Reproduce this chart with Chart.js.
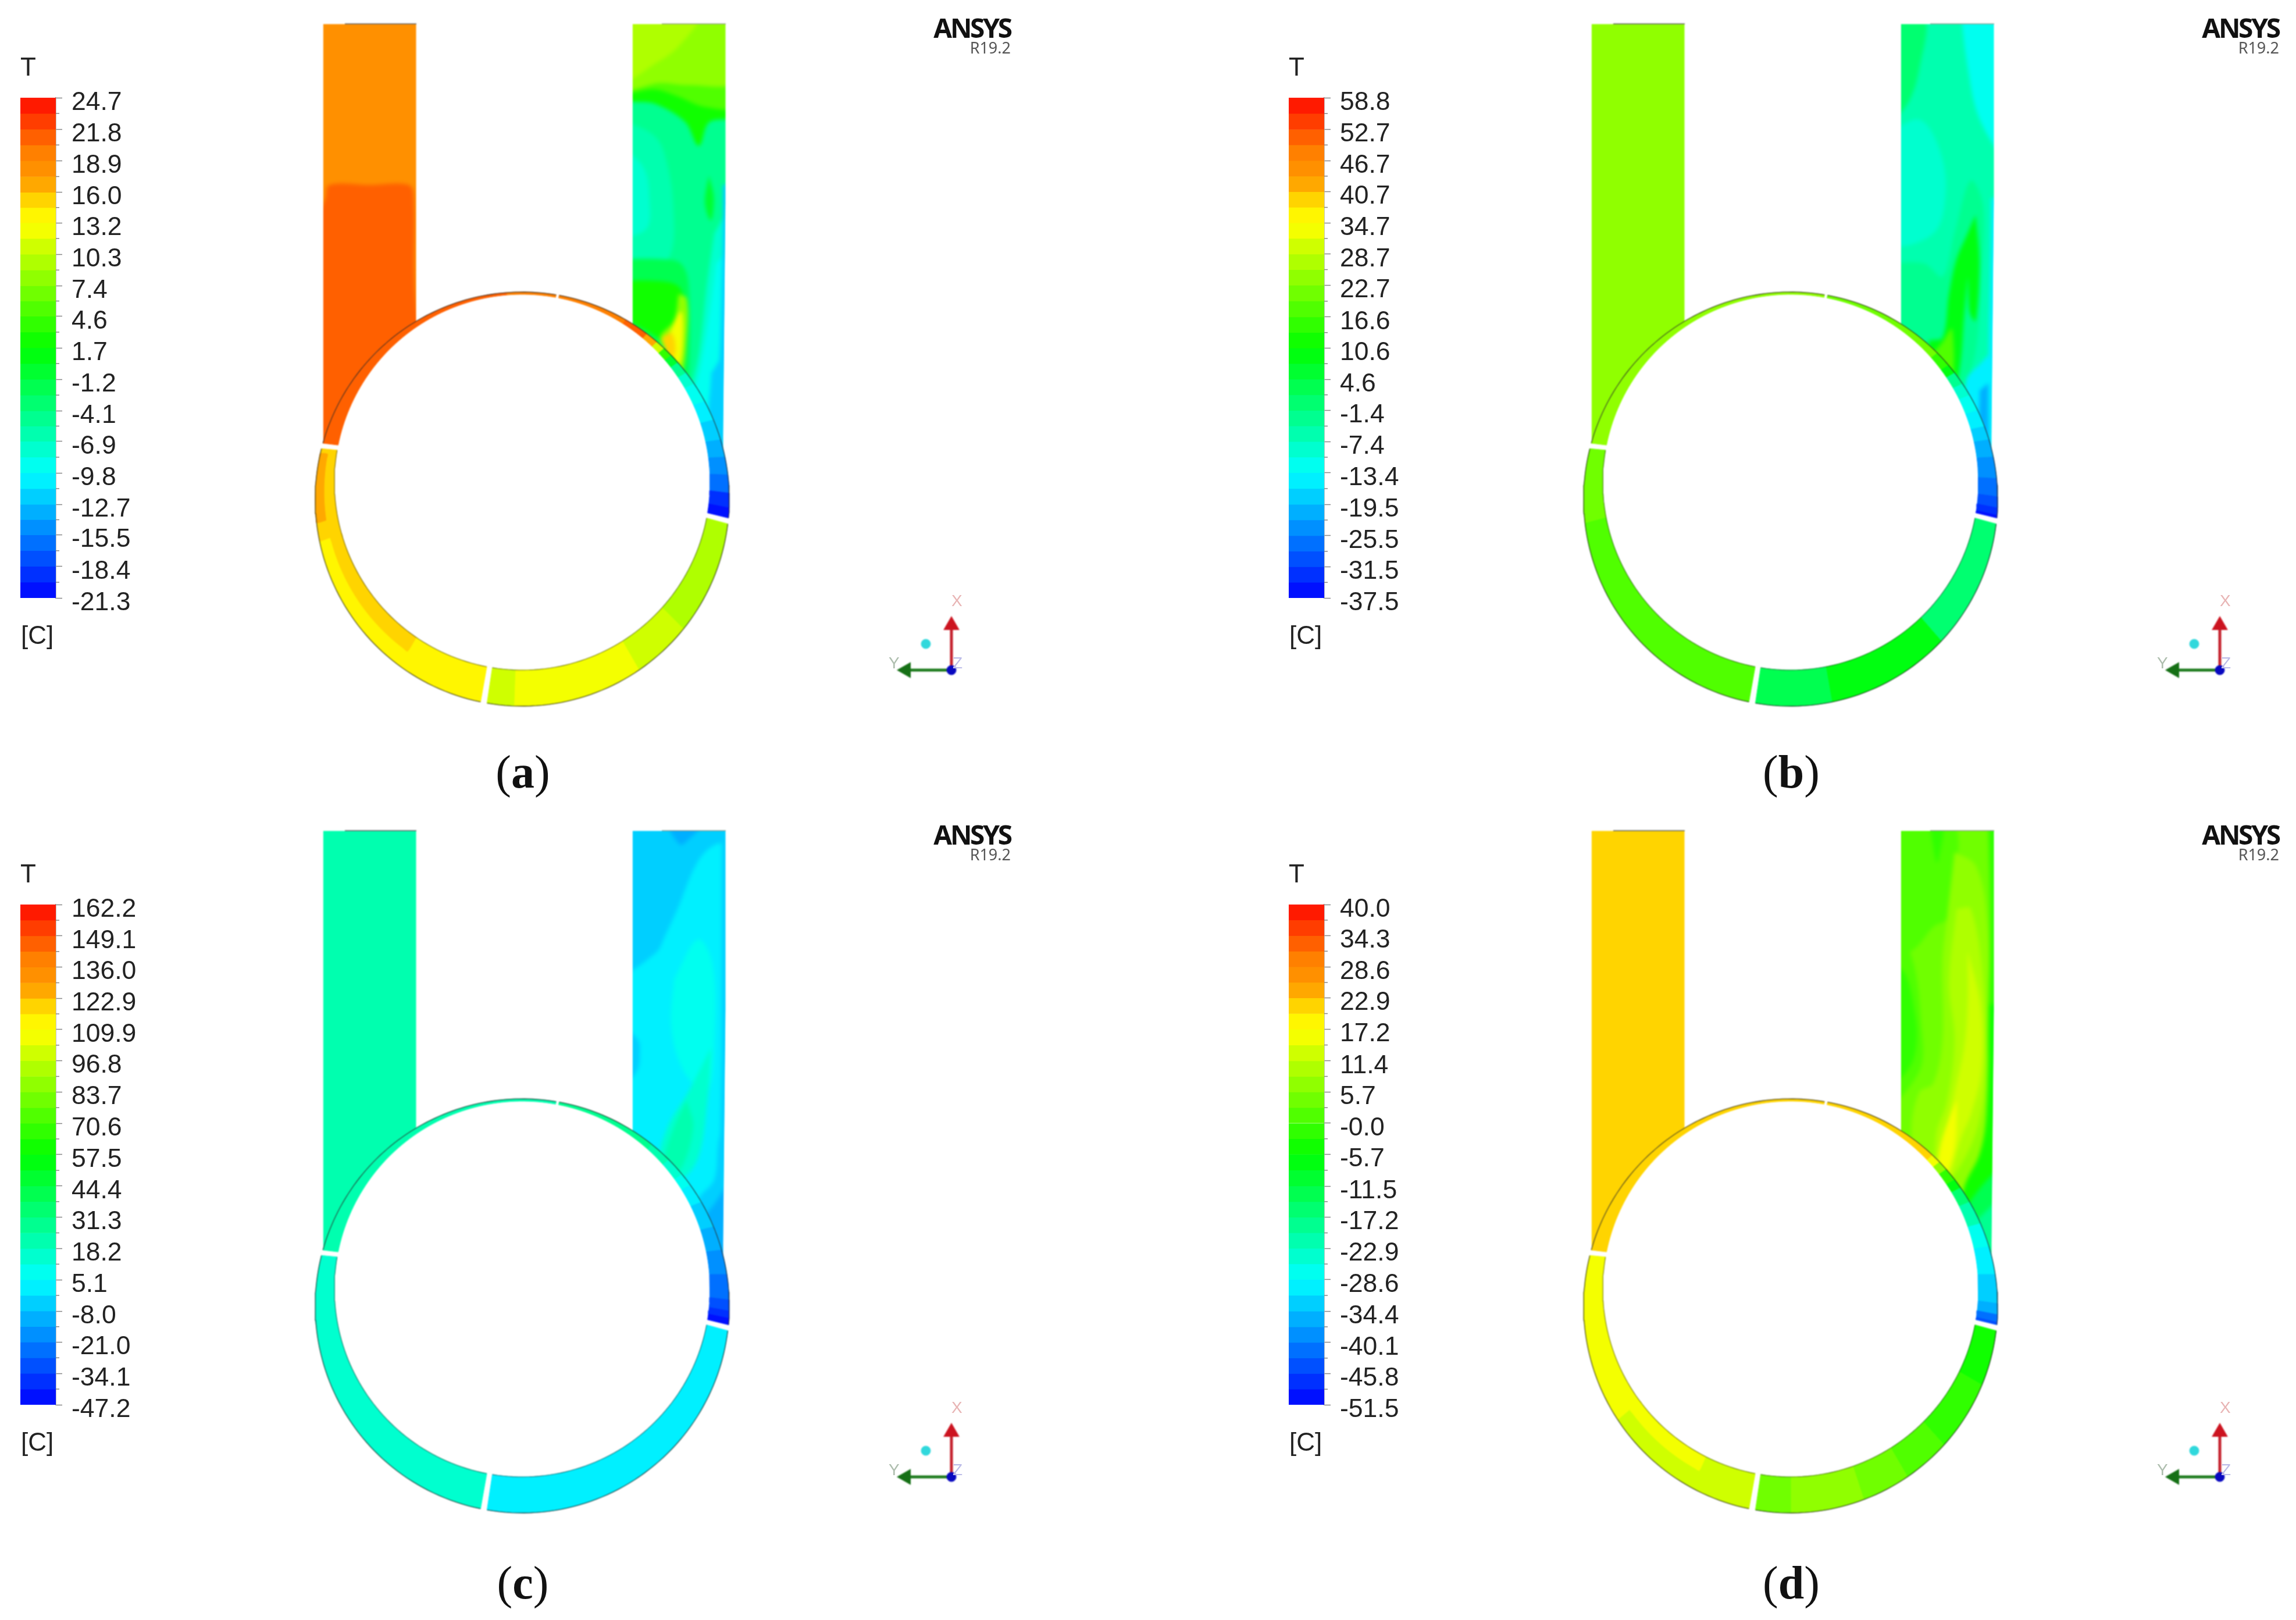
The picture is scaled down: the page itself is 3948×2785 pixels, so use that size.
<!DOCTYPE html>
<html>
<head>
<meta charset="utf-8">
<title>T contours</title>
<script src="https://cdn.jsdelivr.net/npm/chart.js@4"></script>
<style>
  html, body { margin: 0; background: #fff; }
  body { position: relative; width: 3948px; height: 2785px; overflow: hidden; font-family: "Liberation Sans", Arial, sans-serif; color: #222; }
  canvas { position: absolute; }
  .duct { filter: blur(3.5px); }
  .field { filter: blur(1.1px); }
  .bar { filter: blur(0.7px); }
  .txt { position: absolute; white-space: nowrap; line-height: 1; filter: blur(0.6px); }
</style>
</head>
<body>
<script>
// colour bands of the legend, top (hot) to bottom (cold)
const bandColors = [
  '#ff1a00', '#ff3d00', '#ff6000', '#ff8000', '#ff9000', '#ffa800', '#ffd400', '#fff600',
  '#f4ff00', '#cfff00', '#afff00', '#90ff00', '#70ff00', '#50ff00', '#30ff00', '#10ff00',
  '#00ff10', '#00ff30', '#00ff50', '#00ff70', '#00ff90', '#00ffaf', '#00ffcf', '#00fff0',
  '#00f0ff', '#00cfff', '#00afff', '#0090ff', '#0070ff', '#0050ff', '#0030ff', '#0010ff'
]

const captions = ['a', 'b', 'c', 'd']

const aTicks = ['24.7', '21.8', '18.9', '16.0', '13.2', '10.3', '7.4', '4.6', '1.7', '-1.2', '-4.1', '-6.9', '-9.8', '-12.7', '-15.5', '-18.4', '-21.3']
const bTicks = ['58.8', '52.7', '46.7', '40.7', '34.7', '28.7', '22.7', '16.6', '10.6', '4.6', '-1.4', '-7.4', '-13.4', '-19.5', '-25.5', '-31.5', '-37.5']
const cTicks = ['162.2', '149.1', '136.0', '122.9', '109.9', '96.8', '83.7', '70.6', '57.5', '44.4', '31.3', '18.2', '5.1', '-8.0', '-21.0', '-34.1', '-47.2']
const dTicks = ['40.0', '34.3', '28.6', '22.9', '17.2', '11.4', '5.7', '-0.0', '-5.7', '-11.5', '-17.2', '-22.9', '-28.6', '-34.4', '-40.1', '-45.8', '-51.5']

// duct contours: temperature, then outline as [% across duct, % down duct]
const aLeftBase = 18.2
const aLeftDuct = [
  [21.1, [[0, 105], [0, 48], [3, 40], [7, 37], [50, 37], [92, 37], [97, 40], [98, 60], [100, 105], [0, 105]]]
]
const aRightBase = -4.8
const aRightDuct = [
  [2.4, [[0, 0], [100, 0], [100, 20.7], [82, 22.5], [71, 27.9], [57, 22.5], [25, 18.3], [0, 16.5], [0, 0]]],
  [5.3, [[0, 0], [100, 0], [100, 18.5], [78, 19], [48, 16.5], [25, 15], [0, 15], [0, 0]]],
  [8.2, [[0, 0], [100, 0], [100, 13], [60, 14], [30, 13.5], [0, 14.5], [0, 0]]],
  [9.6, [[0, 0], [70, 0], [50, 5], [25, 9], [0, 13], [0, 0]]],
  [-6.2, [[0, 22], [25, 26], [38, 33], [44, 43], [42, 52], [25, 57], [0, 54], [0, 22]]],
  [-7.6, [[0, 28], [12, 33], [18, 40], [15, 47], [0, 48], [0, 28]]],
  [-0.4, [[82, 35], [87, 40], [84, 45], [78, 41], [82, 35]]],
  [-7.6, [[88, 48], [100, 40], [100, 105], [60, 105], [60, 88], [72, 75], [80, 60], [88, 48]]],
  [-9.1, [[90, 55], [100, 50], [100, 105], [66, 105], [64, 88], [74, 78], [84, 65], [90, 55]]],
  [-12, [[97, 37], [100, 37], [100, 105], [90, 105], [95, 70], [97, 50], [97, 37]]],
  [-12, [[85, 80], [100, 72], [100, 105], [80, 105], [85, 80]]],
  [-1.9, [[0, 54], [30, 54], [52, 55], [60, 60], [60, 80], [53, 85], [0, 72], [0, 54]]],
  [2.4, [[0, 59], [25, 59], [48, 60], [55, 63], [56, 69], [50, 76], [28, 72], [0, 66], [0, 59]]],
  [8.2, [[50, 62], [58, 63], [58, 72], [52, 80], [40, 76], [30, 72], [45, 68], [50, 62]]],
  [12.5, [[40, 71], [52, 66], [54, 72], [50, 78], [42, 75], [40, 71]]],
  [15.3, [[32, 72], [42, 71], [46, 75], [40, 77], [32, 72]]]
]

const bLeftBase = 24.2
const bLeftDuct = []
const bRightBase = -5.9
const bRightDuct = [
  [0.1, [[0, 0], [25, 0], [20, 10], [8, 18], [0, 22], [0, 0]]],
  [-11.9, [[65, 0], [100, 0], [100, 30], [85, 22], [72, 10], [65, 0]]],
  [-8.9, [[0, 25], [20, 22], [40, 28], [48, 38], [35, 48], [0, 50], [0, 25]]],
  [-2.9, [[0, 55], [25, 55], [45, 58], [58, 48], [75, 36], [88, 42], [85, 60], [80, 75], [65, 85], [52, 90], [0, 85], [0, 55]]],
  [9.2, [[80, 44], [84, 55], [80, 68], [74, 66], [72, 58], [68, 66], [62, 80], [52, 85], [42, 80], [30, 73], [45, 72], [52, 62], [60, 54], [72, 48], [80, 44]]],
  [18.2, [[25, 78], [45, 73], [55, 70], [52, 85], [30, 85], [25, 78]]],
  [-14.9, [[100, 72], [100, 105], [72, 105], [70, 82], [85, 78], [100, 72]]],
  [-20.9, [[85, 84], [100, 80], [100, 105], [85, 105], [85, 84]]],
  [-14.9, [[97, 40], [100, 40], [100, 105], [96, 105], [97, 40]]]
]

const cLeftBase = 21.5
const cLeftDuct = []
const cRightBase = 1.9
const cRightDuct = [
  [-4.7, [[0, 0], [100, 0], [100, 3], [90, 3], [70, 7], [48, 18], [35, 24], [25, 28], [0, 32], [0, 0]]],
  [-11.2, [[35, 0], [75, 0], [55, 3], [50, 3], [35, 0]]],
  [-4.7, [[96, 0], [100, 0], [100, 105], [95, 105], [96, 50], [96, 0]]],
  [-4.7, [[0, 44], [6, 48], [8, 50], [5, 55], [0, 58], [0, 44]]],
  [8.4, [[45, 34], [70, 25], [85, 30], [88, 45], [80, 60], [55, 55], [42, 45], [45, 34]]],
  [15, [[84, 50], [80, 62], [70, 75], [50, 80], [30, 76], [38, 68], [60, 60], [84, 50]]],
  [21.5, [[58, 62], [65, 68], [50, 78], [35, 76], [45, 68], [58, 62]]],
  [-4.7, [[100, 62], [100, 105], [60, 105], [70, 85], [88, 80], [94, 70], [100, 62]]],
  [-11.2, [[100, 78], [100, 105], [68, 105], [75, 90], [90, 85], [100, 78]]]
]

const dLeftBase = 21.4
const dLeftDuct = []
const dRightBase = 4.3
const dRightDuct = [
  [1.4, [[0, 0], [55, 0], [58, 12], [50, 20], [35, 22], [15, 27], [0, 30], [0, 0]]],
  [-1.5, [[31, 0], [45, 0], [40, 7], [38, 7], [31, 0]]],
  [1.4, [[0, 25], [10, 28], [22, 45], [20, 55], [0, 62], [0, 25]]],
  [-1.5, [[0, 30], [5, 33], [15, 42], [17, 48], [10, 54], [0, 58], [0, 30]]],
  [7.1, [[58, 5], [80, 8], [92, 20], [96, 45], [95, 60], [88, 73], [70, 82], [50, 85], [25, 80], [12, 70], [20, 60], [35, 58], [45, 48], [45, 30], [50, 20], [58, 5]]],
  [10, [[60, 18], [75, 18], [88, 35], [90, 55], [82, 68], [60, 78], [40, 82], [38, 70], [50, 62], [58, 48], [52, 35], [60, 18]]],
  [12.8, [[72, 28], [85, 40], [86, 55], [75, 65], [65, 70], [50, 80], [45, 75], [58, 60], [68, 50], [72, 40], [72, 28]]],
  [15.7, [[60, 62], [58, 72], [50, 78], [40, 80], [42, 73], [52, 66], [60, 62]]],
  [-1.5, [[94, 0], [100, 0], [100, 60], [96, 60], [96, 20], [94, 0]]],
  [-4.3, [[95, 40], [100, 40], [100, 85], [60, 95], [68, 82], [85, 74], [92, 65], [95, 40]]],
  [-12.9, [[100, 76], [100, 105], [55, 105], [68, 88], [85, 82], [100, 76]]],
  [-18.7, [[100, 83], [100, 105], [65, 105], [70, 92], [88, 88], [100, 83]]]
]

// ring: where each stretch starts (degrees around the ring) and its temperature
const ringSlits = [78.4, -14.5, -99.3, -186.2, -281.6]

const aRing = [
  [[78.4, 19.7], [55, 21.1], [47, 16.8], [43, 11], [40, 3.9], [37, -0.4], [34, -4.8], [30, -7.6], [26, -9.1], [20, -10.5], [14, -12], [8, -13.4], [3, -14.9], [-2, -16.3], [-7, -19.2], [-11, -20.6]],
  [[-14.5, 9.6], [-45, 11], [-60, 12.5], [-92, 11]],
  [[-99.3, 13.9], [-160, 15.3]],
  [[-186.2, 21.1], [-265, 19.7]]
]
const bRing = [
  [[78.4, 21.2], [38, 15.2], [33, 9.2], [30, -2.9], [26, -8.9], [22, -11.9], [17, -14.9], [12, -17.9], [8, -20.9], [3, -23.9], [-3, -26.9], [-8, -29.9], [-11, -32.9], [-13, -35.9]],
  [[-14.5, 0.1], [-49, 9.2], [-80, 3.1]],
  [[-99.3, 18.2], [-165, 21.2]],
  [[-186.2, 24.2]]
]
const cRing = [
  [[78.4, 28], [45, 21.5], [38, 15], [32, 8.4], [28, 1.9], [22, -4.7], [14, -11.2], [7, -17.8], [0, -24.3], [-7, -30.9], [-10, -37.4], [-12, -43.9]],
  [[-14.5, 1.9]],
  [[-99.3, 15]],
  [[-186.2, 21.5]]
]
const dRing = [
  [[78.4, 21.4], [40, 15.7], [37, 7.1], [34, -1.5], [30, -7.2], [27, -15.8], [22, -21.5], [15, -27.3], [8, -30.1], [0, -33], [-8, -35.9], [-11, -41.6], [-13, -44.5]],
  [[-14.5, -4.3], [-30, -1.5], [-48, 1.4], [-60, 4.3], [-72, 7.1], [-90, 4.3]],
  [[-99.3, 12.8], [-140, 15.7]],
  [[-186.2, 21.4]]
]

// extra ring patches: from deg, to deg, from/to fraction across the ring (inner to outer), temperature
const aPatches = [[-122, -160, 0, 0.5, 15.3], [-165, -184, 0.55, 1, 16.8]]
const bPatches = []
const cPatches = []
const dPatches = [[-115, -140, 0, 0.45, 15.7]]

const panels = [
  { ticks: aTicks, leftBase: aLeftBase, left: aLeftDuct, rightBase: aRightBase, right: aRightDuct, ring: aRing, patches: aPatches },
  { ticks: bTicks, leftBase: bLeftBase, left: bLeftDuct, rightBase: bRightBase, right: bRightDuct, ring: bRing, patches: bPatches },
  { ticks: cTicks, leftBase: cLeftBase, left: cLeftDuct, rightBase: cRightBase, right: cRightDuct, ring: cRing, patches: cPatches },
  { ticks: dTicks, leftBase: dLeftBase, left: dLeftDuct, rightBase: dRightBase, right: dRightDuct, ring: dRing, patches: dPatches }
]

const PANEL_W = 1974
const PANEL_H = 1387
// model units: 1 unit = 10 px, origin at the inner circle centre
const INNER = { cy: 0, r: 32.3 }
const OUTER = { cy: -2.9, r: 35.6 }
const RAY_Y = 2.5

function rayHit (deg, circle) {
  const a = deg * Math.PI / 180
  const dx = Math.cos(a)
  const dy = Math.sin(a)
  const fy = RAY_Y - circle.cy
  const b = dy * fy
  const t = -b + Math.sqrt(b * b - (fy * fy - circle.r * circle.r))
  return { x: t * dx, y: RAY_Y + t * dy }
}

function ringPoint (deg, f) {
  const p = rayHit(deg, INNER)
  const q = rayHit(deg, OUTER)
  return { x: p.x + (q.x - p.x) * f, y: p.y + (q.y - p.y) * f }
}

function arcPoints (from, to, f) {
  const n = Math.max(2, Math.ceil(Math.abs(to - from) / 1.5))
  const pts = []
  for (let i = 0; i <= n; i++) pts.push(ringPoint(from + (to - from) * i / n, f))
  return pts
}

function cell (from, to, f0, f1) {
  const pts = arcPoints(from, to, f0).concat(arcPoints(to, from, f1))
  pts.push(pts[0])
  return pts
}

function shape (points, color, tension) {
  return {
    data: points,
    showLine: true,
    fill: 'shape',
    backgroundColor: color,
    borderColor: color,
    borderWidth: 1,
    pointRadius: 0,
    tension: tension || 0
  }
}

function stroke (points, color, width) {
  return { data: points, showLine: true, fill: false, borderColor: color, borderWidth: width, pointRadius: 0, tension: 0 }
}

function rect (x0, x1, y0, y1) {
  return [{ x: x0, y: y0 }, { x: x1, y: y0 }, { x: x1, y: y1 }, { x: x0, y: y1 }, { x: x0, y: y0 }]
}

function colorScale (panel) {
  const vals = panel.ticks.map(Number)
  const hi = vals[0]
  const lo = vals[vals.length - 1]
  return t => bandColors[Math.min(31, Math.max(0, Math.floor((hi - t) / (hi - lo) * 32)))]
}

function ductDatasets (panel) {
  const colorOf = colorScale(panel)
  const paint = []
  const duct = (x0, base, contours) => {
    // walls and top run past the duct so the soft edge stays hidden under the masks
    const at = ([u, v]) => ({
      x: x0 + 0.161 * (u <= 0 ? -12 : u >= 100 ? 112 : u),
      y: 78.8 - 0.75 * (v <= 0 ? -2 : v)
    })
    paint.push(shape(rect(x0 - 3, x0 + 19, 80.5, -0.1), colorOf(base)))
    contours.forEach(([t, pts]) => paint.push(shape(pts.map(at), colorOf(t), 0.35)))
  }
  duct(-34.3, panel.leftBase, panel.left)
  duct(18.9, panel.rightBase, panel.right)
  return paint.reverse()
}

function ringDatasets (panel) {
  const colorOf = colorScale(panel)
  const paint = []

  // white around the ducts
  paint.push(shape(rect(-89.8, -34.3, 82.9, -10), '#fff'))
  paint.push(shape(rect(-18.2, 18.9, 82.9, -10), '#fff'))
  paint.push(shape([{ x: 35, y: 82.9 }, { x: 107.6, y: 82.9 }, { x: 107.6, y: -10 }, { x: 34.6, y: -10 }, { x: 34.6, y: 8 }, { x: 35, y: 48 }, { x: 35, y: 82.9 }], '#fff'))
  paint.push(shape(rect(-89.8, 107.6, 82.9, 78.8), '#fff'))

  // outer disc cuts the duct ends
  const disc = []
  for (let deg = 0; deg <= 360; deg += 2) disc.push(ringPoint(deg, 1))
  paint.push(shape(disc, '#fff'))

  panel.ring.forEach((stops, s) => {
    const start = ringSlits[s] - (s === 0 ? 0.5 : 0.8)
    const end = ringSlits[s + 1] + (s === 3 ? 0.5 : 0.8)
    stops.forEach(([deg, t], j) => {
      const from = j === 0 ? start : deg
      const to = j + 1 < stops.length ? stops[j + 1][0] : end
      paint.push(shape(cell(from, to, 0, 1), colorOf(t)))
    })
  })
  panel.patches.forEach(([a0, a1, f0, f1, t]) => paint.push(shape(cell(a0, a1, f0, f1), colorOf(t), 0.2)))
  panel.ring.forEach((stops, s) => {
    const start = ringSlits[s] - (s === 0 ? 0.5 : 0.8)
    const end = ringSlits[s + 1] + (s === 3 ? 0.5 : 0.8)
    paint.push(stroke(arcPoints(start, end, 1), 'rgba(30,30,30,0.8)', 1.3))
    if (s === 1 || s === 2) paint.push(stroke(arcPoints(start, end, 0), 'rgba(30,30,30,0.6)', 1.1))
  })

  paint.push(stroke([{ x: -30.5, y: 78.8 }, { x: -18.2, y: 78.8 }], 'rgba(50,50,50,0.8)', 1.6))
  paint.push(stroke([{ x: 24, y: 78.8 }, { x: 35, y: 78.8 }], 'rgba(50,70,50,0.5)', 1.6))

  // axis triad
  paint.push({ data: [{ x: 73.8, y: -32.3 }, { x: 73.8, y: -24.6 }], showLine: true, borderColor: '#c4202c', borderWidth: 5, pointStyle: 'triangle', pointRadius: [0, 11], pointBackgroundColor: '#cc1420', pointBorderColor: '#cc1420', pointRotation: 0 })
  paint.push({ data: [{ x: 73.8, y: -32.3 }, { x: 66, y: -32.3 }], showLine: true, borderColor: '#1c7a1c', borderWidth: 5, pointStyle: 'triangle', pointRadius: [0, 11], pointBackgroundColor: '#167016', pointBorderColor: '#167016', pointRotation: -90 })
  paint.push({ data: [{ x: 73.8, y: -32.3 }], pointRadius: 8, pointBackgroundColor: '#0808c0', pointBorderColor: '#0808c0' })
  paint.push({ data: [{ x: 69.4, y: -27.8 }], pointRadius: 8, pointBackgroundColor: '#30d8dc', pointBorderColor: '#30d8dc' })

  return paint.reverse()
}

function addCanvas (cls, x, y, w, h) {
  const c = document.createElement('canvas')
  c.className = cls
  c.width = w
  c.height = h
  c.style.left = x + 'px'
  c.style.top = y + 'px'
  document.body.appendChild(c)
  return c
}

function addText (html, x, y, size, extra) {
  const d = document.createElement('div')
  d.className = 'txt'
  d.innerHTML = html
  d.style.cssText = `left:${x}px;top:${y}px;font-size:${size}px;${extra || ''}`
  document.body.appendChild(d)
  return d
}

function drawField (cls, datasets, ox, oy) {
  new Chart(addCanvas(cls, ox, oy, PANEL_W, PANEL_H), {
    type: 'scatter',
    data: { datasets },
    options: {
      responsive: false,
      animation: false,
      events: [],
      layout: { padding: 0, autoPadding: false },
      plugins: { legend: { display: false }, tooltip: { enabled: false } },
      scales: {
        x: { type: 'linear', display: false, min: -89.8, max: 107.6 },
        y: { type: 'linear', display: false, min: -55.8, max: 82.9 }
      }
    }
  })
}

function drawLegend (panel, ox, oy) {
  const vals = panel.ticks.map(Number)
  const edges = []
  vals.forEach((v, i) => {
    edges.push(v)
    if (i + 1 < vals.length) edges.push((v + vals[i + 1]) / 2)
  })
  const minors = edges.filter((v, i) => i % 2 === 1)
  const minorTicks = {
    id: 'minorTicks',
    afterDraw (chart) {
      const y = chart.scales.y
      const g = chart.ctx
      g.save()
      g.strokeStyle = '#888'
      g.lineWidth = 1.5
      g.beginPath()
      minors.forEach(v => {
        const p = y.getPixelForValue(v)
        g.moveTo(y.left, p)
        g.lineTo(y.left + 6, p)
      })
      g.stroke()
      g.restore()
    }
  }
  new Chart(addCanvas('bar', ox, oy + 100, 300, 1000), {
    type: 'bar',
    data: {
      labels: ['T'],
      datasets: bandColors.map((color, i) => ({
        data: [[edges[i + 1], edges[i]]],
        backgroundColor: color,
        borderWidth: 0,
        barPercentage: 1,
        categoryPercentage: 1,
        grouped: false
      }))
    },
    options: {
      responsive: false,
      animation: false,
      events: [],
      layout: { padding: { left: 35, top: 68, bottom: 72, right: 0 } },
      plugins: { legend: { display: false }, tooltip: { enabled: false } },
      scales: {
        x: { display: false },
        y: {
          position: 'right',
          min: vals[vals.length - 1],
          max: vals[0],
          afterFit: s => { s.width = 204 },
          afterBuildTicks: s => { s.ticks = vals.map(v => ({ value: v })) },
          border: { color: '#888', width: 1.5 },
          grid: { drawOnChartArea: false, tickLength: 11, tickColor: '#888', tickWidth: 1.5 },
          ticks: {
            autoSkip: false,
            padding: 16,
            labelOffset: 8.5,
            color: '#222',
            font: { family: '"Liberation Sans"', size: 44.5 },
            callback: (v, i) => panel.ticks[i]
          }
        }
      }
    },
    plugins: [minorTicks]
  })
}

panels.forEach((panel, i) => {
  const ox = i % 2 * 2181
  const oy = i > 1 ? 1387 : 0
  drawField('duct', ductDatasets(panel), ox, oy)
  drawField('field', ringDatasets(panel), ox, oy)
  drawLegend(panel, ox, oy)

  addText('T', ox + 35, oy + 93, 44)
  addText('[C]', ox + 36, oy + 1070, 44)
  addText('ANSYS', ox + 1738 - 400, oy + 24, 46, 'width:400px;text-align:right;font-family:"Noto Sans";font-weight:700;letter-spacing:-3.2px;color:#111')
  addText('R19.2', ox + 1738 - 200, oy + 68, 27, 'width:200px;text-align:right;font-family:"Noto Sans";color:#555')
  addText('X', ox + 1636, oy + 1019, 28, 'color:#e8b4b4')
  addText('Y', ox + 1528, oy + 1126, 28, 'color:#aebeae')
  addText('Z', ox + 1638, oy + 1126, 28, 'color:#bcbce8')
  addText(`(<b>${captions[i]}</b>)`, ox + 899 - 150, (i > 1 ? 2724 : 1330) - 43, 80, 'width:300px;text-align:center;font-family:"Liberation Serif";color:#111')
})
</script>
</body>
</html>
